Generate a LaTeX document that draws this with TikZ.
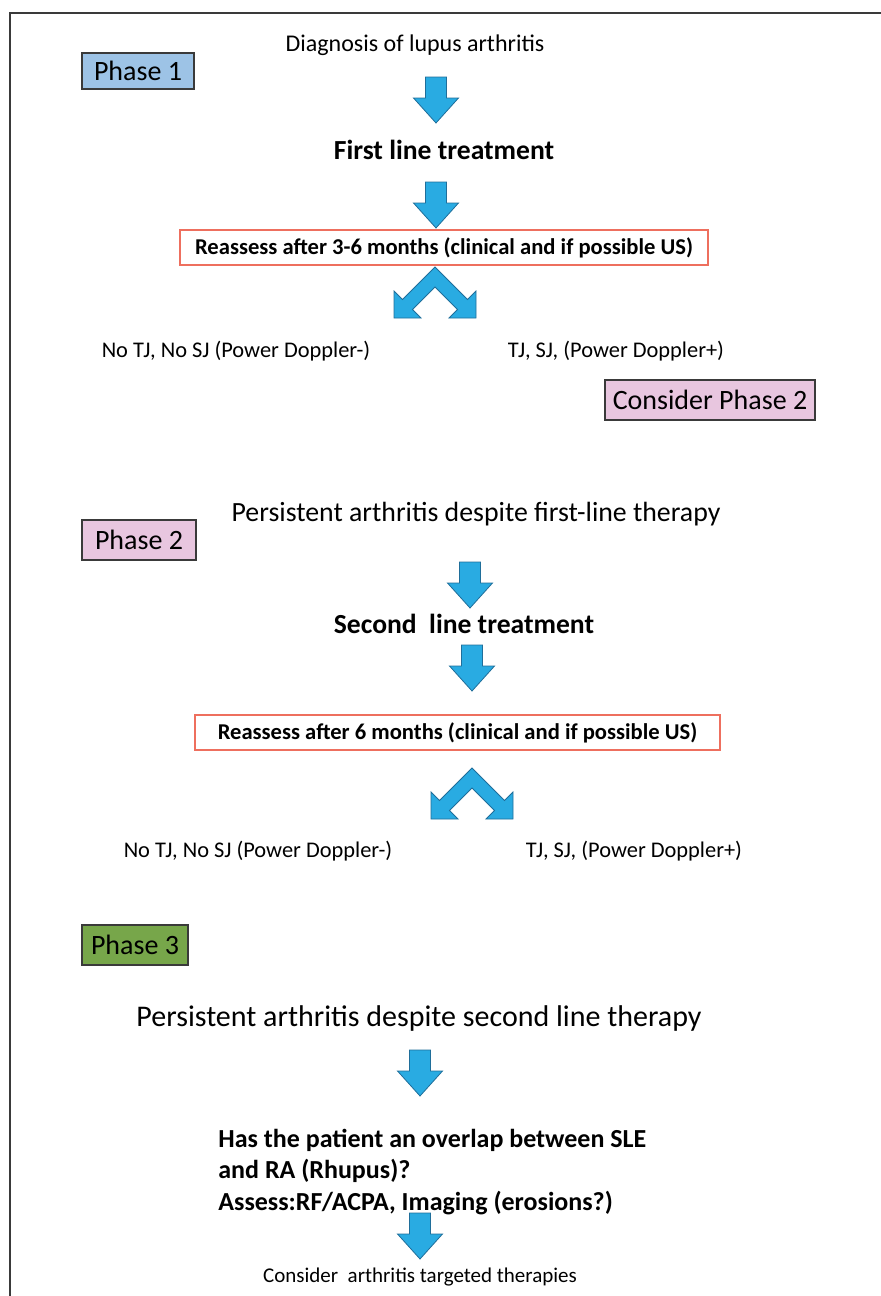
\documentclass[tikz,border=0pt]{standalone}
\usepackage{fontspec}
\setmainfont{Carlito}
\definecolor{arrowblue}{HTML}{29ABE2}
\definecolor{arrowedge}{HTML}{1F6E9A}
\definecolor{phaseblue}{HTML}{9DC3E6}
\definecolor{phasepink}{HTML}{E8C6DF}
\definecolor{phasegreen}{HTML}{77A64A}
\definecolor{boxred}{HTML}{EE6F5E}
\definecolor{framegray}{HTML}{3A3A3A}
\tikzset{
  phasebox/.style={draw=framegray, line width=0.6pt, inner sep=0pt, font=\fontsize{14}{16}\selectfont},
  redbox/.style={draw=boxred, line width=0.6pt, inner sep=0pt, font=\bfseries\fontsize{11.3}{13}\selectfont},
  plain/.style={inner sep=0pt, font=\fontsize{12}{14}\selectfont},
  branch/.style={inner sep=0pt, font=\fontsize{11.2}{13}\selectfont},
  boldtitle/.style={inner sep=0pt, font=\bfseries\fontsize{13.8}{16}\selectfont},
  blockarrow/.pic={
    \filldraw[fill=arrowblue, draw=arrowedge, line width=0.4pt]
      (-10.5,0) -- (10.5,0) -- (10.5,21) -- (22.5,21) -- (0,46) -- (-22.5,21) -- (-10.5,21) -- cycle;
  },
  chevron/.pic={
    \filldraw[fill=arrowblue, draw=arrowedge, line width=0.4pt]
      (0,0) -- (32.5,32.5) -- (41,24) -- (41,51) -- (14,51) -- (22.5,42.5) -- (0,20)
      -- (-22.5,42.5) -- (-14,51) -- (-41,51) -- (-41,24) -- (-32.5,32.5) -- cycle;
  }
}
\begin{document}
\begin{tikzpicture}[x=0.5pt, y=-0.5pt]
\useasboundingbox (0,0) rectangle (881,1296);
% frame
\coordinate (fTL) at (10,13);
\coordinate (fTR) at (881,13);
\coordinate (fBL) at (10,1296);
\draw[framegray, line width=1.2pt] (fTR) -- (fTL) -- (fBL);

% ---------- Phase 1 ----------
\node[phasebox, fill=phaseblue, minimum width=56pt, minimum height=18pt] (ph1) at (138,71) {Phase 1};
\node[plain] (diag) at (415,45) {Diagnosis of lupus arthritis};
\pic at (436,77) {blockarrow};
\node[boldtitle] (first) at (444,150) {First line treatment};
\pic at (436,182) {blockarrow};
\node[redbox, minimum width=264pt, minimum height=17.5pt] (re1) at (444,247.5) {Reassess after 3-6 months (clinical and if possible US)};
\pic at (435,267) {chevron};
\node[branch] (no1) at (236,351) {No TJ, No SJ (Power Doppler-)};
\node[branch] (yes1) at (616,351) {TJ, SJ, (Power Doppler+)};
\node[phasebox, fill=phasepink, minimum width=105pt, minimum height=20pt] (cp2) at (710,400) {Consider Phase 2};

% ---------- Phase 2 ----------
\node[plain, font=\fontsize{13.9}{16}\selectfont] (pers1) at (476,514) {Persistent arthritis despite first-line therapy};
\node[phasebox, fill=phasepink, minimum width=57pt, minimum height=20pt] (ph2) at (139,540) {Phase 2};
\pic at (470,562) {blockarrow};
\node[boldtitle] (second) at (464,624) {Second\ \ line treatment};
\pic at (472,645) {blockarrow};
\node[redbox, minimum width=262.5pt, minimum height=17.5pt] (re2) at (457.5,732.5) {Reassess after 6 months (clinical and if possible US)};
\pic at (472,768) {chevron};
\node[branch] (no2) at (258,851) {No TJ, No SJ (Power Doppler-)};
\node[branch] (yes2) at (634,851) {TJ, SJ, (Power Doppler+)};

% ---------- Phase 3 ----------
\node[phasebox, fill=phasegreen, minimum width=53pt, minimum height=20pt] (ph3) at (135,945) {Phase 3};
\node[plain, font=\fontsize{15}{18}\selectfont] (pers2) at (419,1018) {Persistent arthritis despite second line therapy};
\pic at (420,1050) {blockarrow};
\node[inner sep=0pt, anchor=west, align=left, font=\bfseries\fontsize{13}{15.8}\selectfont] (overlap) at (218,1172)
  {Has the patient an overlap between SLE\\and RA (Rhupus)?\\Assess:RF/ACPA, Imaging (erosions?)};
\pic at (420,1213) {blockarrow};
\node[inner sep=0pt, font=\fontsize{10.5}{12}\selectfont] (cons) at (420,1277) {Consider\ \ arthritis targeted therapies};
\end{tikzpicture}
\end{document}
